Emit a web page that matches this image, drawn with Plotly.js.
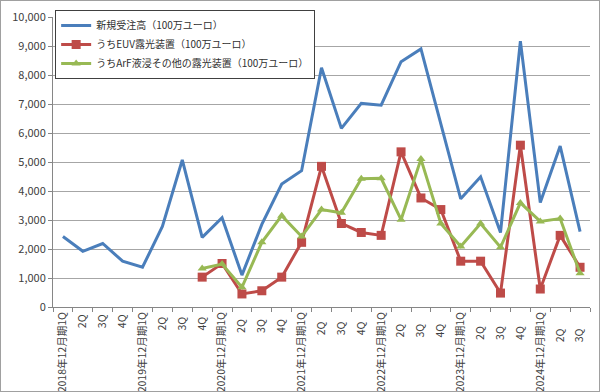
<!DOCTYPE html>
<html>
<head>
<meta charset="utf-8">
<script src="https://cdn.plot.ly/plotly-3.0.1.min.js"></script>
<style>
html,body{margin:0;padding:0;background:#fff;}
#chart{width:598px;height:390px;border:1px solid #a0a0a0;}
</style>
</head>
<body>
<div id="chart"></div>
<script>
const categories = [
  "2018年12月期1Q","2Q ","3Q ","4Q ",
  "2019年12月期1Q","2Q  ","3Q  ","4Q  ",
  "2020年12月期1Q","2Q   ","3Q   ","4Q   ",
  "2021年12月期1Q","2Q    ","3Q    ","4Q    ",
  "2022年12月期1Q","2Q     ","3Q     ","4Q     ",
  "2023年12月期1Q","2Q      ","3Q      ","4Q      ",
  "2024年12月期1Q","2Q       ","3Q       "
];
const seriesNames = ["新規受注高（100万ユーロ）","うちEUV露光装置（100万ユーロ）","うちArF液浸その他の露光装置（100万ユーロ）"];
const totalOrders = [2430,1920,2190,1580,1370,2780,5070,2400,3080,1100,2850,4240,4700,8250,6160,7020,6960,8460,8900,6300,3730,4490,2570,9170,3600,5550,2600];
const euvOrders = [null,null,null,null,null,null,null,1030,1500,450,560,1030,2230,4850,2880,2570,2470,5350,3760,3360,1580,1580,480,5580,620,2470,1370];
const arfOrders = [null,null,null,null,null,null,null,1330,1480,680,2230,3150,2430,3360,3250,4420,4440,3010,5100,2880,2090,2880,2060,3590,2950,3050,1160];

const font = "'Noto Sans CJK JP', 'Noto Sans', sans-serif";
const traces = [
  {x: categories, y: totalOrders, name: seriesNames[0], type: "scatter", mode: "lines",
   line: {color: "#4a7ebb", width: 3}},
  {x: categories, y: euvOrders, name: seriesNames[1], type: "scatter", mode: "lines+markers",
   line: {color: "#be4b48", width: 3}, marker: {symbol: "square", size: 9, color: "#be4b48"}},
  {x: categories, y: arfOrders, name: seriesNames[2], type: "scatter", mode: "lines+markers",
   line: {color: "#98b954", width: 3}, marker: {symbol: "triangle-up", size: 8, color: "#98b954"}}
];
const layout = {
  width: 598, height: 390,
  margin: {l: 52, r: 9, t: 14, b: 84},
  paper_bgcolor: "#fff", plot_bgcolor: "#fff",
  font: {family: font, size: 11, color: "#404040"},
  showlegend: true,
  legend: {x: 0.004, y: 1.024, xanchor: "left", yanchor: "top",
    bgcolor: "#fff", bordercolor: "#404040", borderwidth: 1,
    font: {family: font, size: 10, color: "#303030"}},
  xaxis: {type: "category", range: [-0.5, 26.5], tickangle: -90,
    showgrid: false, showline: true, linecolor: "#868686", linewidth: 1,
    ticks: "outside", ticklen: 4, tickcolor: "#868686", tickson: "boundaries",
    tickfont: {family: font, size: 10.5, color: "#404040"}, fixedrange: true},
  yaxis: {range: [0, 10000], dtick: 1000, tickformat: ",",
    showgrid: true, gridcolor: "#a6a6a6", gridwidth: 1,
    showline: true, linecolor: "#868686", linewidth: 1,
    ticks: "outside", ticklen: 4, tickcolor: "#868686",
    zeroline: false,
    tickfont: {family: font, size: 11, color: "#404040"}, fixedrange: true}
};
Plotly.newPlot("chart", traces, layout, {displayModeBar: false, staticPlot: true});
</script>
</body>
</html>
